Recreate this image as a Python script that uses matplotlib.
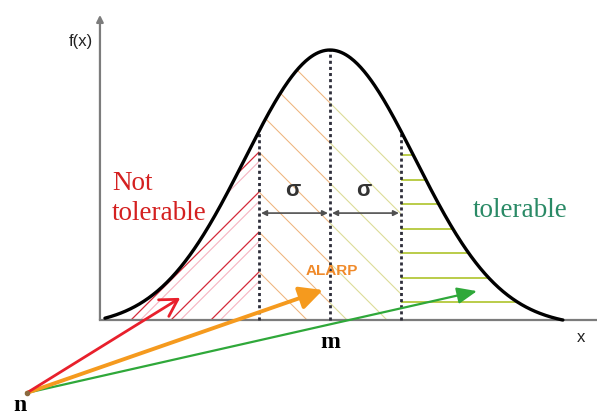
import numpy as np
import matplotlib
matplotlib.use("Agg")
import matplotlib.pyplot as plt
from matplotlib.patches import Polygon

# ---------------- data (diagram values) ----------------
MEAN = 0.0
SIGMA_MARKS = [-1.0, 0.0, 1.0]            # m - sigma, m, m + sigma
CURVE_SPREAD = 1.2                        # width of the bell curve
CURVE_FLOOR = 0.024                       # tail offset so the curve meets the axis
CURVE_X = (-3.17, 3.28)                   # extent of the drawn curve
AXIS_X0 = -3.24                           # position of the f(x) axis
AXIS_TOP = 1.13
SIGMA_ARROW_Y = 0.396
RED_HATCH_LEVELS = [0.178, 0.326, 0.474, 0.622]                       # at m - sigma
MID_HATCH_LEVELS = [0.178, 0.326, 0.474, 0.622, 0.770, 0.919, 1.067]  # at m - sigma
GREEN_HATCH_LEVELS = [0.611, 0.519, 0.430, 0.337, 0.248, 0.156, 0.067]
ORIGIN_N = (-4.27, -0.27)
ARROW_ENDS = {"red": (-2.11, 0.082), "orange": (-0.10, 0.111), "green": (2.07, 0.107)}

# ---------------- figure ----------------
W, H = 597, 419
fig = plt.figure(figsize=(W / 100, H / 100), dpi=100)
ax = fig.add_axes([0, 0, 1, 1])
XL = (-330 / 71, 267 / 71)
YL = (-99 / 270, 320 / 270)
ax.set_xlim(*XL)
ax.set_ylim(*YL)
ax.axis("off")

# slope of a 45-degree line in data units
SLOPE = (W / (XL[1] - XL[0])) / (H / (YL[1] - YL[0]))


def curve(x):
    g = np.exp(-(x - MEAN) ** 2 / (2 * CURVE_SPREAD ** 2))
    return np.clip((g - CURVE_FLOOR) / (1 - CURVE_FLOOR), 0, None)


def region(x0, x1):
    xs = np.linspace(x0, x1, 200)
    verts = list(zip(xs, curve(xs))) + [(x1, 0), (x0, 0)]
    return Polygon(verts, closed=True, transform=ax.transData)


left_poly = region(CURVE_X[0], SIGMA_MARKS[0])
midl_poly = region(SIGMA_MARKS[0], SIGMA_MARKS[1])
midr_poly = region(SIGMA_MARKS[1], SIGMA_MARKS[2])
right_poly = region(SIGMA_MARKS[2], CURVE_X[1])

xm = SIGMA_MARKS[0]
# red "/" hatch in the not-tolerable region
for lvl in RED_HATCH_LEVELS:
    xs = np.array([-5.0, xm])
    ln, = ax.plot(xs, lvl + SLOPE * (xs - xm), color="#d42a3a", lw=0.9, zorder=2)
    ln.set_clip_path(left_poly)
    ln2, = ax.plot(xs, lvl - 0.035 + SLOPE * (xs - xm), color="#f6b4c2", lw=0.8, zorder=2)
    ln2.set_clip_path(left_poly)

# "\" hatch in the ALARP region
for lvl in MID_HATCH_LEVELS:
    xs = np.array([xm, 2.0])
    ys = lvl - SLOPE * (xs - xm)
    a, = ax.plot(xs, ys, color="#eeb47c", lw=0.75, zorder=2)
    a.set_clip_path(midl_poly)
    b, = ax.plot(xs, ys, color="#dcdc98", lw=0.8, zorder=2)
    b.set_clip_path(midr_poly)

# green horizontal hatch in the tolerable region
for lvl in GREEN_HATCH_LEVELS:
    ln, = ax.plot([SIGMA_MARKS[2], 4.0], [lvl, lvl], color="#b4c83a", lw=1.3, zorder=2)
    ln.set_clip_path(right_poly)

# dashed verticals
for s in SIGMA_MARKS:
    ax.plot([s, s], [0, curve(np.array(s))], ls=(0, (1.1, 1.1)), lw=2.0,
            color="#2e2e3a", zorder=4)

# bell curve
xc = np.linspace(CURVE_X[0], CURVE_X[1], 400)
ax.plot(xc, curve(xc), color="black", lw=2.4, zorder=5, solid_capstyle="round")

# axes
ax.plot([AXIS_X0, XL[1]], [0, 0], color="#7c7c7c", lw=1.6, zorder=3)
ax.annotate("", xy=(AXIS_X0, AXIS_TOP), xytext=(AXIS_X0, 0),
            arrowprops=dict(arrowstyle="-|>", color="#7c7c7c", lw=1.6,
                            mutation_scale=10, shrinkA=0, shrinkB=0), zorder=3)

# sigma double arrows
for a0, a1 in [(SIGMA_MARKS[0], SIGMA_MARKS[1]), (SIGMA_MARKS[1], SIGMA_MARKS[2])]:
    ax.annotate("", xy=(a1, SIGMA_ARROW_Y), xytext=(a0, SIGMA_ARROW_Y),
                arrowprops=dict(arrowstyle="<|-|>", color="#505050", lw=1.2,
                                mutation_scale=8, shrinkA=1.5, shrinkB=1.5), zorder=6)

# arrows from n
styles = {
    "red": dict(arrowstyle="->,head_length=0.6,head_width=0.35", color="#e8202c", lw=2.0),
    "orange": dict(arrowstyle="-|>,head_length=0.7,head_width=0.35", color="#f59a1e", lw=2.8),
    "green": dict(arrowstyle="-|>,head_length=0.6,head_width=0.25", color="#2fa83a", lw=1.6),
}
for key in ["green", "orange", "red"]:
    p = dict(styles[key])
    p.update(mutation_scale=20, shrinkA=0, shrinkB=0)
    ax.annotate("", xy=ARROW_ENDS[key], xytext=ORIGIN_N, arrowprops=p, zorder=7)
ax.plot(*ORIGIN_N, "o", ms=3, color="#8a6a40", zorder=8)

# texts
serif = ["Liberation Serif", "DejaVu Serif"]
sans = ["Liberation Sans", "DejaVu Sans"]
ax.text(AXIS_X0 - 0.1, 1.03, "f(x)", ha="right", va="center", fontsize=12,
        family=sans, color="#222222")
ax.text(3.54, -0.063, "x", ha="center", va="center", fontsize=12, family=sans,
        color="#222222")
ax.text(0.0, -0.085, "m", ha="center", va="center", fontsize=17, family=serif,
        fontweight="bold")
ax.text(-4.37, (320 - 411) / 270, "n", ha="center", va="baseline", fontsize=17,
        family=serif, fontweight="bold")
ax.text(-3.07, (320 - 190) / 270, "Not", ha="left", va="baseline", fontsize=19.5,
        family=serif, color="#d42020")
ax.text(-3.07, (320 - 220) / 270, "tolerable", ha="left", va="baseline", fontsize=19.5,
        family=serif, color="#d42020")
ax.text(2.01, (320 - 217) / 270, "tolerable", ha="left", va="baseline", fontsize=19.5,
        family=serif, color="#2a8a66")
ax.text(-0.52, (320 - 191) / 270, "σ", ha="center", va="center", fontsize=16,
        family=sans, fontweight="bold", color="#333333")
ax.text(0.47, (320 - 191) / 270, "σ", ha="center", va="center", fontsize=16,
        family=sans, fontweight="bold", color="#333333")
ax.text(0.03, (320 - 271) / 270, "ALARP", ha="center", va="center", fontsize=11,
        family=sans, fontweight="bold", color="#f08a2a", zorder=6)

fig.savefig("out.png", dpi=100)
